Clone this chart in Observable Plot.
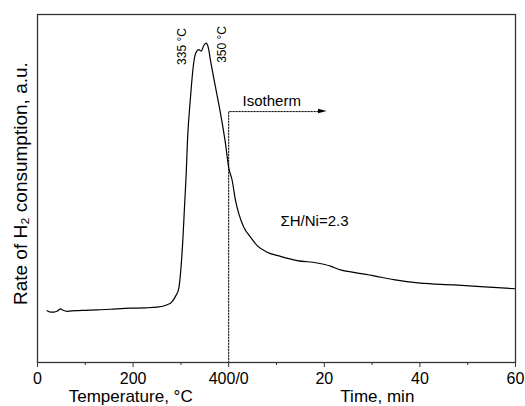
<!DOCTYPE html>
<html>
<head>
<meta charset="utf-8">
<script src="https://cdn.jsdelivr.net/npm/d3@7"></script>
<script src="https://cdn.jsdelivr.net/npm/@observablehq/plot@0.6"></script>
<style>
  html, body { margin: 0; padding: 0; background: white; }
</style>
</head>
<body>
<div id="chart"></div>
<script>
// Temperature-programmed part (°C) and its signal (a.u.)
const tempC = [20.3, 27.2, 34.1, 41.8, 48.1, 52.3, 62.1, 79.5, 100.4, 124.9, 152.7, 194.6, 225.9, 250.4, 271.3, 280.3, 288.7, 295.6, 299.2, 304.0, 307.5, 311.1, 313.8, 320.1, 324.9, 330.5, 337.4, 342.5, 347.9, 352.9, 357.1, 361.9, 372.4, 382.8, 393.3, 400];
const tempSignal = [14.9, 14.5, 14.5, 14.8, 15.4, 15.1, 14.7, 14.9, 15.0, 15.1, 15.3, 15.6, 15.7, 15.9, 16.6, 17.3, 19.0, 21.3, 25.6, 35.1, 44.6, 54.3, 63.8, 76.2, 83.9, 88.7, 89.9, 89.5, 91.1, 91.8, 90.6, 86.8, 79.1, 71.6, 62.9, 56.0];

// Isothermal part (min) and its signal (a.u.)
const timeMin = [0.73, 1.42, 2.11, 3.16, 4.56, 5.96, 8.05, 10.84, 14.33, 18.5, 21.3, 23.4, 26.2, 30.4, 34.5, 40.1, 47.1, 52.7, 60];
const timeSignal = [52.3, 46.6, 42.8, 38.9, 36.0, 33.6, 31.7, 30.5, 29.3, 28.6, 27.7, 26.6, 25.9, 24.9, 23.8, 22.8, 22.3, 21.8, 21.2];

// Composite x axis: 0–400 °C, then 0–60 min (1 min = 10 units)
const majorTicks = [0, 200, 400, 600, 800, 1000];
const majorTickLabels = ["0", "200", "400/0", "20", "40", "60"];
const minorTicks = [100, 300, 500, 700, 900];

const toX = (minutes) => 400 + 10 * minutes;

const curve = [
  ...tempC.map((t, i) => ({x: t, y: tempSignal[i]})),
  ...timeMin.map((m, i) => ({x: toX(m), y: timeSignal[i]}))
];

// Isotherm marker geometry (data units)
const isoLevel = 72.1;
const isoPath = [{x: 400, y: 0}, {x: 400, y: isoLevel}, {x: 590, y: isoLevel}];
const arrowHead = [{x: 588, y1: isoLevel - 0.65, y2: isoLevel + 0.65}, {x: 606, y1: isoLevel, y2: isoLevel}];

const labelMap = new Map(majorTicks.map((d, i) => [d, majorTickLabels[i]]));

const chart = Plot.plot({
  width: 525,
  height: 406,
  marginLeft: 37,
  marginRight: 10,
  marginTop: 14,
  marginBottom: 44,
  style: {fontFamily: "'Liberation Sans', Arial, sans-serif", background: "white", color: "black"},
  x: {domain: [0, 1000], axis: null},
  y: {domain: [0, 100], axis: null},
  marks: [
    Plot.line(isoPath, {x: "x", y: "y", stroke: "black", strokeWidth: 1, strokeDasharray: "1.5,1.5"}),
    Plot.areaY(arrowHead, {x: "x", y1: "y1", y2: "y2", fill: "black", curve: "linear"}),
    Plot.line(curve, {x: "x", y: "y", stroke: "black", strokeWidth: 1.2, curve: "monotone-x"}),
    Plot.frame({stroke: "#333", strokeWidth: 1.3}),
    Plot.axisX(majorTicks, {anchor: "bottom", label: null, tickSize: 5, tickPadding: 5, fontSize: 16, tickFormat: (d) => labelMap.get(d), stroke: "#333"}),
    Plot.axisX(minorTicks, {anchor: "bottom", label: null, tickSize: 3, tickFormat: () => "", stroke: "#333"}),
    Plot.text(["Temperature, °C"], {x: 195, frameAnchor: "bottom", dy: 39, lineAnchor: "bottom", fontSize: 17, fill: "black"}),
    Plot.text(["Time, min"], {x: 711, frameAnchor: "bottom", dy: 39, lineAnchor: "bottom", fontSize: 17, fill: "black"}),
    Plot.text(["Rate of H₂ consumption, a.u."], {y: 51.4, frameAnchor: "left", dx: -11, rotate: -90, lineAnchor: "bottom", textAnchor: "middle", fontSize: 19, fill: "black"}),
    Plot.text(["335 °C"], {x: 311.7, y: 90.8, rotate: -90, lineAnchor: "bottom", textAnchor: "middle", fontSize: 12, fill: "black"}),
    Plot.text(["350 °C"], {x: 394.4, y: 91.4, rotate: -90, lineAnchor: "bottom", textAnchor: "middle", fontSize: 12, fill: "black"}),
    Plot.text(["Isotherm"], {x: 429, y: 73.85, lineAnchor: "bottom", textAnchor: "start", fontSize: 15, fill: "black"}),
    Plot.text(["ΣH/Ni=2.3"], {x: 508.4, y: 39.1, lineAnchor: "bottom", textAnchor: "start", fontSize: 15, fill: "black"})
  ]
});

document.getElementById("chart").appendChild(chart);
</script>
</body>
</html>
